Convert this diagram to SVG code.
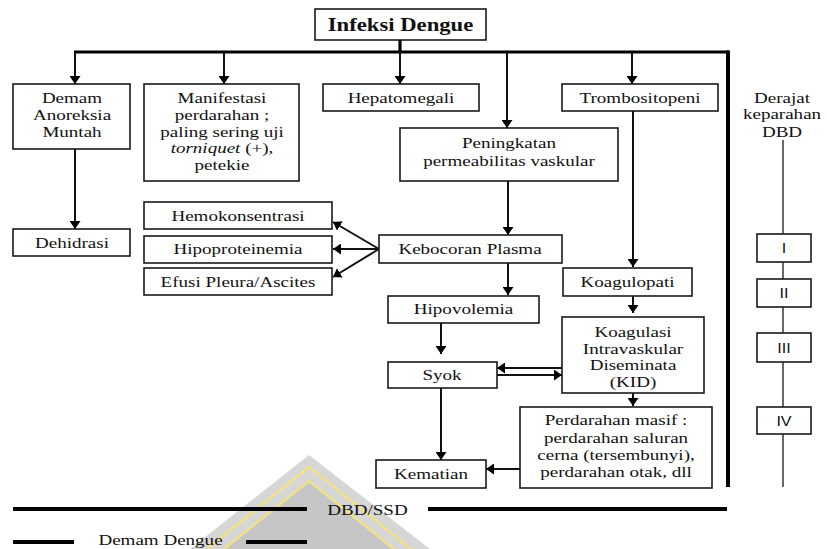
<svg xmlns="http://www.w3.org/2000/svg" width="827" height="549" viewBox="0 0 827 549">
<defs>
<style>
.box{fill:#fff;stroke:#1a1a1a;stroke-width:1.6}
.t{font-family:"Liberation Serif","Times New Roman",serif;font-size:15px;fill:#111;text-anchor:middle}
.bt{font-weight:bold;font-size:18px}
.r{font-family:"Liberation Sans",Arial,sans-serif;font-size:14px;fill:#111;text-anchor:middle}
.c{stroke:#111;stroke-width:2;fill:none}
.thick{stroke:#000;stroke-width:3.2;fill:none}
.heavy{stroke:#000;stroke-width:4;fill:none}
.gauge{stroke:#444;stroke-width:1.6;fill:none}
</style>
<marker id="ah" viewBox="0 0 8 11" refX="8" refY="5.5" markerWidth="8" markerHeight="11" markerUnits="userSpaceOnUse" orient="auto">
<path d="M0,0 L8,5.5 L0,11 z" fill="#000"/>
</marker>
</defs>
<rect width="827" height="549" fill="#fff"/>

<g id="watermark">
<polygon points="309,455 190,549 430,549" fill="#d6d6d6"/>
<polygon points="309,481 224,549 394,549" fill="#c6c6c6"/>
<polyline points="207,549 309,467 411,549" fill="none" stroke="#efe189" stroke-width="2.5"/>
<polyline points="224,549 309,481 394,549" fill="none" stroke="#efe189" stroke-width="2.5"/>
</g>

<g id="connectors">
<line class="thick" x1="400" y1="40" x2="400" y2="52"/>
<line class="thick" x1="74" y1="52" x2="729" y2="52"/>
<line class="heavy" x1="728" y1="50.5" x2="728" y2="487"/>
<line class="c" x1="75" y1="52" x2="75" y2="84" marker-end="url(#ah)"/>
<line class="c" x1="224" y1="52" x2="224" y2="84" marker-end="url(#ah)"/>
<line class="c" x1="400" y1="52" x2="400" y2="84" marker-end="url(#ah)"/>
<line class="c" x1="507" y1="52" x2="507" y2="128" marker-end="url(#ah)"/>
<line class="c" x1="632" y1="52" x2="632" y2="84" marker-end="url(#ah)"/>
<line class="c" x1="75" y1="149" x2="75" y2="229" marker-end="url(#ah)"/>
<line class="c" x1="508" y1="181" x2="508" y2="235" marker-end="url(#ah)"/>
<line class="c" x1="633" y1="111" x2="633" y2="267" marker-end="url(#ah)"/>
<line class="c" x1="379" y1="249" x2="333" y2="222" marker-end="url(#ah)"/>
<line class="c" x1="379" y1="249" x2="333" y2="249" marker-end="url(#ah)"/>
<line class="c" x1="379" y1="249" x2="333" y2="277" marker-end="url(#ah)"/>
<line class="c" x1="508" y1="263" x2="508" y2="295" marker-end="url(#ah)"/>
<line class="c" x1="441" y1="323" x2="441" y2="354" marker-end="url(#ah)"/>
<line class="c" x1="633" y1="296" x2="633" y2="313" marker-end="url(#ah)"/>
<line class="c" x1="562" y1="368" x2="497" y2="368" marker-end="url(#ah)"/>
<line class="c" x1="497" y1="375" x2="562" y2="375" marker-end="url(#ah)"/>
<line class="c" x1="633" y1="393" x2="633" y2="406" marker-end="url(#ah)"/>
<line class="c" x1="441" y1="388" x2="441" y2="460" marker-end="url(#ah)"/>
<line class="c" x1="520" y1="469" x2="486" y2="469" marker-end="url(#ah)"/>
<line class="gauge" x1="783" y1="140" x2="783" y2="487"/>
<line class="heavy" x1="13" y1="509" x2="307" y2="509"/>
<line class="heavy" x1="428" y1="509" x2="727" y2="509"/>
<line class="heavy" x1="13" y1="542" x2="74" y2="542"/>
<line class="heavy" x1="246" y1="542" x2="307" y2="542"/>
</g>

<g id="infeksi">
<rect class="box" x="315" y="9" width="171" height="31"/>
<text class="t bt" transform="translate(400.5,31) scale(1.26,1)">Infeksi Dengue</text>
</g>

<g id="demam">
<rect class="box" x="13" y="84" width="117" height="65"/>
<text class="t" transform="translate(72,103) scale(1.27,1)">Demam</text>
<text class="t" transform="translate(72,120) scale(1.27,1)">Anoreksia</text>
<text class="t" transform="translate(72,137) scale(1.27,1)">Muntah</text>
</g>

<g id="manifestasi">
<rect class="box" x="144" y="84" width="155" height="97"/>
<text class="t" transform="translate(222,103) scale(1.27,1)">Manifestasi</text>
<text class="t" transform="translate(222,120) scale(1.27,1)">perdarahan ;</text>
<text class="t" transform="translate(222,137) scale(1.27,1)">paling sering uji</text>
<text class="t" transform="translate(222,153) scale(1.27,1)"><tspan font-style="italic">torniquet</tspan> (+),</text>
<text class="t" transform="translate(222,170) scale(1.27,1)">petekie</text>
</g>

<g id="hepatomegali">
<rect class="box" x="323" y="84" width="156" height="27"/>
<text class="t" transform="translate(401,103) scale(1.27,1)">Hepatomegali</text>
</g>

<g id="trombositopeni">
<rect class="box" x="562" y="84" width="156" height="27"/>
<text class="t" transform="translate(640,103) scale(1.27,1)">Trombositopeni</text>
</g>

<g id="peningkatan">
<rect class="box" x="400" y="128" width="218" height="53"/>
<text class="t" transform="translate(509,148) scale(1.27,1)">Peningkatan</text>
<text class="t" transform="translate(509,166) scale(1.27,1)">permeabilitas vaskular</text>
</g>

<g id="dehidrasi">
<rect class="box" x="13" y="229" width="117" height="27"/>
<text class="t" transform="translate(72,248) scale(1.27,1)">Dehidrasi</text>
</g>

<g id="hemokonsentrasi">
<rect class="box" x="144" y="202" width="188" height="27"/>
<text class="t" transform="translate(238,221) scale(1.27,1)">Hemokonsentrasi</text>
</g>

<g id="hipoproteinemia">
<rect class="box" x="144" y="236" width="188" height="27"/>
<text class="t" transform="translate(238,254) scale(1.27,1)">Hipoproteinemia</text>
</g>

<g id="efusi">
<rect class="box" x="144" y="268" width="188" height="27"/>
<text class="t" transform="translate(238,287) scale(1.27,1)">Efusi Pleura/Ascites</text>
</g>

<g id="kebocoran">
<rect class="box" x="379" y="235" width="183" height="28"/>
<text class="t" transform="translate(470,254) scale(1.27,1)">Kebocoran Plasma</text>
</g>

<g id="koagulopati">
<rect class="box" x="563" y="268" width="129" height="28"/>
<text class="t" transform="translate(627.5,287) scale(1.27,1)">Koagulopati</text>
</g>

<g id="hipovolemia">
<rect class="box" x="388" y="296" width="151" height="27"/>
<text class="t" transform="translate(463.5,314) scale(1.27,1)">Hipovolemia</text>
</g>

<g id="kid">
<rect class="box" x="562" y="317" width="142" height="76"/>
<text class="t" transform="translate(633,337) scale(1.27,1)">Koagulasi</text>
<text class="t" transform="translate(633,354) scale(1.27,1)">Intravaskular</text>
<text class="t" transform="translate(633,370) scale(1.27,1)">Diseminata</text>
<text class="t" transform="translate(633,387) scale(1.27,1)">(KID)</text>
</g>

<g id="syok">
<rect class="box" x="388" y="362" width="109" height="26"/>
<text class="t" transform="translate(442,380) scale(1.27,1)">Syok</text>
</g>

<g id="perdarahan">
<rect class="box" x="520" y="407" width="192" height="81"/>
<text class="t" transform="translate(616,425) scale(1.27,1)">Perdarahan masif :</text>
<text class="t" transform="translate(616,443) scale(1.27,1)">perdarahan saluran</text>
<text class="t" transform="translate(616,460) scale(1.27,1)">cerna (tersembunyi),</text>
<text class="t" transform="translate(616,477) scale(1.27,1)">perdarahan otak, dll</text>
</g>

<g id="kematian">
<rect class="box" x="376" y="460" width="110" height="28"/>
<text class="t" transform="translate(431,479) scale(1.27,1)">Kematian</text>
</g>

<g id="derajat">
<text class="t" transform="translate(782,103) scale(1.27,1)">Derajat</text>
<text class="t" transform="translate(782,119) scale(1.27,1)">keparahan</text>
<text class="t" transform="translate(782,137) scale(1.27,1)">DBD</text>
</g>

<g id="grade-1">
<rect class="box" x="757" y="234" width="54" height="28"/>
<text class="r" transform="translate(784,253) scale(1.15,1)">I</text>
</g>
<g id="grade-2">
<rect class="box" x="757" y="279" width="54" height="28"/>
<text class="r" transform="translate(784,298) scale(1.15,1)">II</text>
</g>
<g id="grade-3">
<rect class="box" x="757" y="333" width="54" height="29"/>
<text class="r" transform="translate(784,353) scale(1.15,1)">III</text>
</g>
<g id="grade-4">
<rect class="box" x="757" y="407" width="54" height="27"/>
<text class="r" transform="translate(784,426) scale(1.15,1)">IV</text>
</g>

<g id="legend">
<text class="t" transform="translate(367.5,515) scale(1.27,1)">DBD/SSD</text>
<text class="t" transform="translate(160.5,545) scale(1.27,1)">Demam Dengue</text>
</g>
</svg>
